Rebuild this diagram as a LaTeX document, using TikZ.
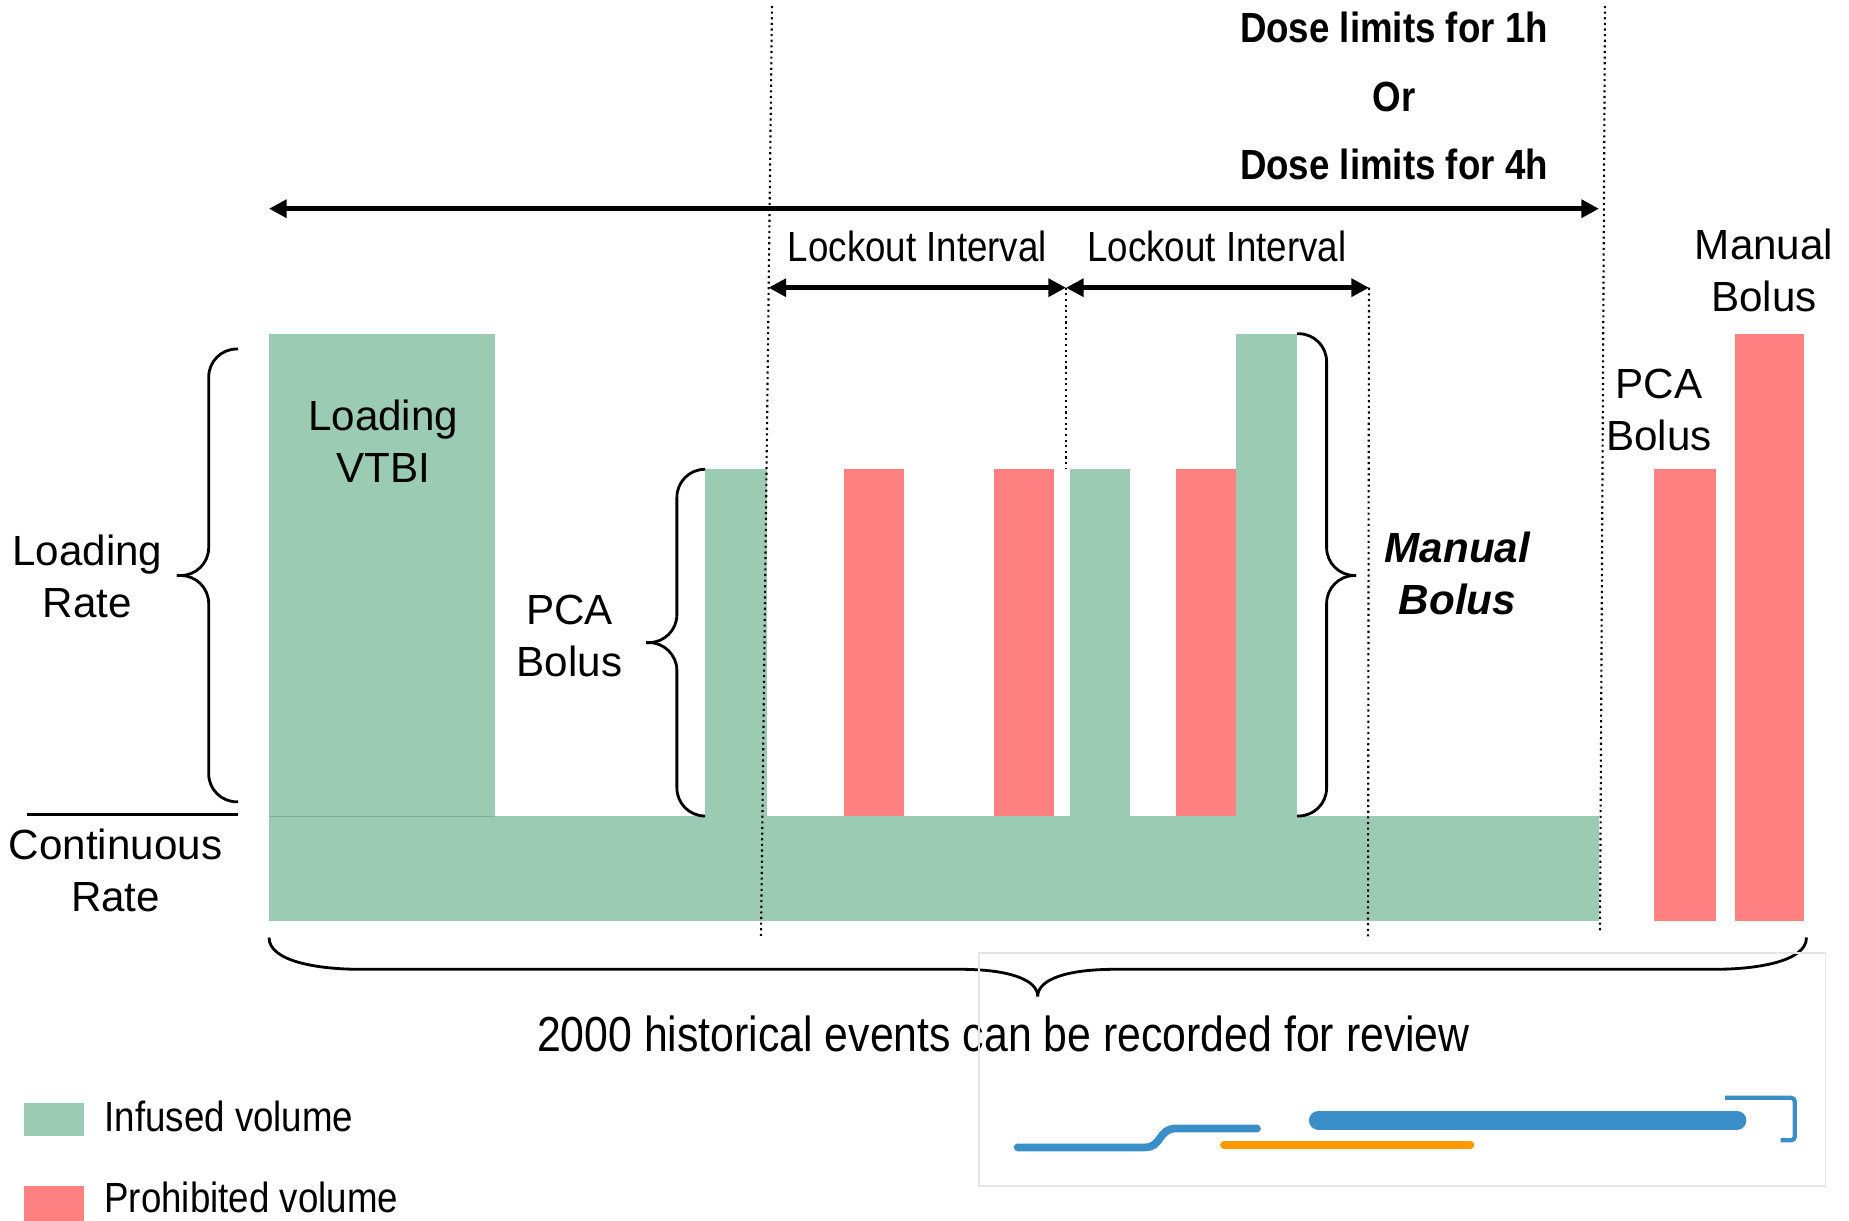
\documentclass[tikz,border=0pt]{standalone}
\usepackage{fontspec}
\setmainfont{Liberation Sans}
\newfontfamily\narrowsf[FakeStretch=0.87]{Liberation Sans}
\usetikzlibrary{arrows.meta}

\definecolor{infused}{RGB}{155,203,179}
\definecolor{prohibited}{RGB}{255,128,128}
\definecolor{uiblue}{RGB}{59,143,201}
\definecolor{uiorange}{RGB}{255,153,0}
\definecolor{uigray}{RGB}{230,230,230}

\tikzset{
  infusedbar/.style={fill=infused},
  prohibitedbar/.style={fill=prohibited},
  limitline/.style={densely dotted,line width=0.6pt},
  spanarrow/.style={line width=1.3pt,{Triangle[length=5pt,width=5pt]}-{Triangle[length=5pt,width=5pt]}},
  bracepath/.style={line width=0.8pt,rounded corners=0.28cm},
  barlabel/.style={font=\fontsize{12}{14.8}\selectfont,align=center,inner sep=0pt},
  lockouttext/.style={font=\narrowsf\fontsize{12}{14}\selectfont,inner sep=0pt},
  dosetext/.style={font=\narrowsf\bfseries\fontsize{12}{19.5}\selectfont,align=center,inner sep=0pt},
  reviewtext/.style={font=\narrowsf\fontsize{14}{16}\selectfont,inner sep=0pt},
  legendtext/.style={font=\narrowsf\fontsize{12}{13.5}\selectfont,inner sep=0pt,anchor=west},
}

\begin{document}
\begin{tikzpicture}[x=1cm,y=1cm]
	\useasboundingbox (0,0) rectangle (18.49,-12.21);
	% infused and prohibited volumes
	\fill[infusedbar] (2.69,-3.34) rectangle (4.95,-8.16);
	\fill[infusedbar] (2.69,-8.16) rectangle (15.99,-9.21);
	\draw[infused!85!black,line width=0.2pt] (2.69,-8.16) -- (4.95,-8.16);
	\fill[infusedbar] (7.05,-4.69) rectangle (7.665,-8.16);
	\fill[prohibitedbar] (8.443,-4.69) rectangle (9.044,-8.16);
	\fill[prohibitedbar] (9.941,-4.69) rectangle (10.542,-8.16);
	\fill[infusedbar] (10.695,-4.69) rectangle (11.297,-8.16);
	\fill[prohibitedbar] (11.757,-4.69) rectangle (12.358,-8.16);
	\fill[infusedbar] (12.358,-3.34) rectangle (12.971,-8.16);
	\fill[prohibitedbar] (16.544,-4.69) rectangle (17.157,-9.21);
	\fill[prohibitedbar] (17.346,-3.34) rectangle (18.042,-9.21);
	% limit lines
	\coordinate (d1top) at (7.72,-0.06);
	\coordinate (d1bot) at (7.61,-9.375);
	\coordinate (d2top) at (10.66,-2.877);
	\coordinate (d2bot) at (10.66,-4.69);
	\coordinate (d3top) at (13.69,-2.877);
	\coordinate (d3bot) at (13.68,-9.375);
	\coordinate (d4top) at (16.05,-0.06);
	\coordinate (d4bot) at (16.0,-9.316);
	\draw[limitline] (d1top) -- (d1bot);
	\draw[limitline] (d2top) -- (d2bot);
	\draw[limitline] (d3top) -- (d3bot);
	\draw[limitline] (d4top) -- (d4bot);
	% arrows
	\coordinate (spanL) at (2.69,-2.087);
	\coordinate (spanR) at (15.99,-2.087);
	\coordinate (lockL) at (7.685,-2.877);
	\draw[spanarrow] (spanL) -- (spanR);
	\draw[spanarrow] (lockL) -- (d2top);
	\draw[spanarrow] (d2top) -- (d3top);
	% texts
	\node[dosetext] (dose) at (13.94,-0.96) {Dose limits for 1h\\Or\\Dose limits for 4h};
	\node[lockouttext] (lock1) at (9.174,-2.464) {Lockout Interval};
	\node[lockouttext] (lock2) at (12.169,-2.464) {Lockout Interval};
	\node[barlabel] (vtbi) at (3.832,-4.41) {Loading\\VTBI};
	\node[barlabel] (loadrate) at (0.873,-5.76) {Loading\\Rate};
	\node[barlabel] (contrate) at (1.156,-8.708) {Continuous\\Rate};
	\node[barlabel] (pca) at (5.695,-6.362) {PCA\\Bolus};
	\node[barlabel,font=\bfseries\itshape\fontsize{12}{14.8}\selectfont] (manual) at (14.575,-5.73) {Manual\\Bolus};
	\node[barlabel] (pcaR) at (16.591,-4.104) {PCA\\Bolus};
	\node[barlabel] (manualR) at (17.641,-2.706) {Manual\\Bolus};
	\node[reviewtext] (review) at (10.035,-10.342) {2000 historical events can be recorded for review};
	% braces
	\draw[line width=0.8pt] (0.271,-8.148) -- (2.382,-8.148);
	\draw[bracepath] (2.382,-3.49) -- (2.087,-3.49) -- (2.087,-5.755) -- (1.769,-5.755);
	\draw[bracepath] (2.382,-8.018) -- (2.087,-8.018) -- (2.087,-5.755) -- (1.769,-5.755);
	\draw[bracepath] (7.05,-4.693) -- (6.769,-4.693) -- (6.769,-6.426) -- (6.462,-6.426);
	\draw[bracepath] (7.05,-8.16) -- (6.769,-8.16) -- (6.769,-6.426) -- (6.462,-6.426);
	\draw[bracepath] (12.971,-3.337) -- (13.266,-3.337) -- (13.266,-5.755) -- (13.56,-5.755);
	\draw[bracepath] (12.971,-8.16) -- (13.266,-8.16) -- (13.266,-5.755) -- (13.56,-5.755);
	\draw[line width=0.8pt] (2.69,-9.375) .. controls (2.69,-9.62) and (3.2,-9.693) .. (3.6,-9.693) -- (9.6,-9.693) .. controls (10.1,-9.693) and (10.377,-9.8) .. (10.377,-9.964);
	\draw[line width=0.8pt] (18.065,-9.375) .. controls (18.065,-9.62) and (17.55,-9.693) .. (17.15,-9.693) -- (11.15,-9.693) .. controls (10.65,-9.693) and (10.377,-9.8) .. (10.377,-9.964);
	% legend
	\fill[infusedbar] (0.236,-11.025) rectangle (0.837,-11.356);
	\node[legendtext] (infusedkey) at (1.038,-11.167) {Infused volume};
	\fill[prohibitedbar] (0.236,-11.863) rectangle (0.837,-12.21);
	\node[legendtext] (prohibkey) at (1.038,-11.97) {Prohibited volume};
	% overlay
	\draw[uigray,line width=0.5pt] (9.787,-9.528) rectangle (18.254,-11.863);
	\draw[uiblue,line width=2.2pt,line cap=round] (10.176,-11.474) -- (11.45,-11.474) .. controls (11.62,-11.474) and (11.58,-11.285) .. (11.76,-11.285) -- (12.57,-11.285);
	\draw[uiorange,line width=2.2pt,line cap=round] (12.24,-11.45) -- (14.705,-11.45);
	\draw[uiblue,line width=5.4pt,line cap=round] (13.184,-11.202) -- (17.369,-11.202);
	\draw[uiblue,line width=1.2pt,rounded corners=1pt] (17.252,-10.978) -- (17.947,-10.978) -- (17.947,-11.403) -- (17.806,-11.403);
\end{tikzpicture}
\end{document}
